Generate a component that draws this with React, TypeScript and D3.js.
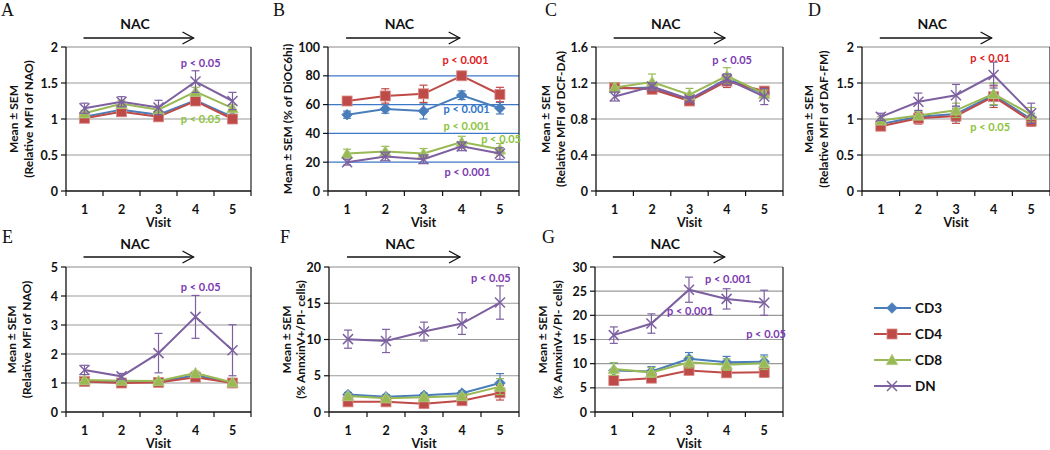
import React from "react";
import * as d3 from "d3";

// ---------- data ----------
const visits = [1, 2, 3, 4, 5];
const seriesNames = ["CD3", "CD4", "CD8", "DN"];

// order of rows: CD3, CD4, CD8, DN
const meansA = [
  [1.03, 1.13, 1.06, 1.26, 1.03],
  [1.01, 1.1, 1.03, 1.25, 1.0],
  [1.08, 1.21, 1.13, 1.38, 1.15],
  [1.15, 1.24, 1.16, 1.52, 1.25],
];
const errA = [
  [0.03, 0.04, 0.03, 0.04, 0.03],
  [0.03, 0.04, 0.03, 0.04, 0.03],
  [0.04, 0.05, 0.05, 0.06, 0.05],
  [0.07, 0.07, 0.1, 0.15, 0.12],
];
const meansB = [
  [53, 57, 55.5, 66.5, 57.5],
  [62.5, 66, 67.5, 80, 67],
  [26, 27.5, 26, 34, 29],
  [20, 24, 22, 31, 26],
];
const errB = [
  [2.5, 3, 5.5, 3, 4],
  [2, 5, 6, 2, 5],
  [3, 3.5, 3.5, 4, 4],
  [2, 3, 3, 3, 4],
];
const meansC = [
  [1.14, 1.15, 1.01, 1.25, 1.08],
  [1.15, 1.13, 1.0, 1.22, 1.11],
  [1.15, 1.21, 1.07, 1.28, 1.08],
  [1.05, 1.16, 1.02, 1.24, 1.05],
];
const errC = [
  [0.04, 0.04, 0.03, 0.05, 0.04],
  [0.05, 0.04, 0.03, 0.07, 0.05],
  [0.05, 0.09, 0.07, 0.09, 0.04],
  [0.05, 0.04, 0.03, 0.06, 0.09],
];
const meansD = [
  [0.93, 1.03, 1.07, 1.33, 1.0],
  [0.9, 1.01, 1.04, 1.31, 0.97],
  [0.98, 1.05, 1.12, 1.35, 1.06],
  [1.03, 1.24, 1.33, 1.61, 1.08],
];
const errD = [
  [0.04, 0.08, 0.1, 0.14, 0.08],
  [0.04, 0.08, 0.1, 0.15, 0.07],
  [0.05, 0.06, 0.1, 0.15, 0.1],
  [0.05, 0.12, 0.15, 0.18, 0.14],
];
const meansE = [
  [1.07, 1.03, 1.04, 1.27, 1.01],
  [1.05, 1.0, 1.02, 1.2, 1.0],
  [1.1, 1.08, 1.07, 1.34, 1.02],
  [1.45, 1.23, 2.03, 3.28, 2.13],
];
const errE = [
  [0.05, 0.04, 0.04, 0.06, 0.04],
  [0.05, 0.04, 0.04, 0.06, 0.04],
  [0.05, 0.04, 0.04, 0.07, 0.04],
  [0.16, 0.1, 0.68, 0.74, 0.88],
];
const meansF = [
  [2.4, 2.1, 2.3, 2.6, 4.0],
  [1.4, 1.4, 1.15, 1.55, 2.65],
  [2.2, 1.9, 2.05, 2.2, 3.5],
  [10.05, 9.8, 11.1, 12.2, 15.1],
];
const errF = [
  [0.3, 0.3, 0.3, 0.3, 1.3],
  [0.3, 0.3, 0.3, 0.3, 1.0],
  [0.3, 0.3, 0.3, 0.3, 1.1],
  [1.25, 1.6, 1.3, 1.5, 2.3],
];
const meansG = [
  [8.6, 8.4, 11.0, 10.3, 10.4],
  [6.5, 7.0, 8.6, 8.1, 8.2],
  [8.9, 8.2, 10.3, 9.8, 10.1],
  [15.9, 18.3, 25.3, 23.4, 22.6],
];
const errG = [
  [1.5, 1.0, 1.3, 1.2, 1.4],
  [0.9, 0.7, 0.8, 0.8, 1.0],
  [1.3, 1.0, 1.2, 1.2, 1.3],
  [1.7, 2.0, 2.6, 2.1, 2.6],
];

// y-axis tick values
const ticksA = [0, 0.5, 1, 1.5, 2];
const ticksB = [0, 20, 40, 60, 80, 100];
const ticksC = [0, 0.4, 0.8, 1.2, 1.6];
const ticksD = [0, 0.5, 1, 1.5, 2];
const ticksE = [0, 1, 2, 3, 4, 5];
const ticksF = [0, 5, 10, 15, 20];
const ticksG = [0, 5, 10, 15, 20, 25, 30];

// significance annotations: [text, seriesKey, visit, value]
const notesA: [string, string, number, number][] = [
  ["p < 0.05", "DN", 4.14, 1.79],
  ["p < 0.05", "CD8", 4.14, 1.01],
];
const notesB: [string, string, number, number][] = [
  ["p < 0.001", "CD4", 4.1, 91],
  ["p < 0.001", "CD3", 4.13, 57.2],
  ["p < 0.001", "CD8", 4.13, 45.5],
  ["p < 0.05", "CD8", 5.03, 36.5],
  ["p < 0.001", "DN", 4.15, 13.8],
];
const notesC: [string, string, number, number][] = [["p < 0.05", "DN", 4.14, 1.465]];
const notesD: [string, string, number, number][] = [
  ["p < 0.01", "CD4", 3.91, 1.85],
  ["p < 0.05", "CD8", 3.91, 0.89],
];
const notesE: [string, string, number, number][] = [["p < 0.05", "DN", 4.14, 4.34]];
const notesF: [string, string, number, number][] = [["p < 0.05", "DN", 4.76, 18.6]];
const notesG: [string, string, number, number][] = [
  ["p < 0.001", "DN", 4.04, 27.7],
  ["p < 0.001", "DN", 3.03, 20.9],
  ["p < 0.05", "DN", 5.05, 16.2],
];

// ---------- styles / layout ----------
const FONT = "Lato, 'Open Sans', 'Liberation Sans', sans-serif";
const lineColors: Record<string, string> = {
  CD3: "#4A7EBB",
  CD4: "#BE4B48",
  CD8: "#98B954",
  DN: "#7D60A0",
};
const noteColors: Record<string, string> = {
  CD3: "#2E75C6",
  CD4: "#E0201E",
  CD8: "#8CC43C",
  DN: "#7B3BB0",
};

type Panel = {
  letter: string;
  lx: number;
  ly: number;
  left: number;
  right: number;
  top: number;
  bottom: number;
  ticks: number[];
  means: number[][];
  errs: number[][];
  notes: [string, string, number, number][];
  ylabel: string[];
  ylabelX: number[];
  gridColor: string;
  row: number;
};

const panels: Panel[] = [
  { letter: "A", lx: 1, ly: 16, left: 66, right: 251, top: 47, bottom: 191, ticks: ticksA, means: meansA, errs: errA, notes: notesA, ylabel: ["Mean ± SEM", "(Relative MFI of NAO)"], ylabelX: [13, 28], gridColor: "#9a9a9a", row: 0 },
  { letter: "B", lx: 273, ly: 16, left: 328, right: 519, top: 47, bottom: 191, ticks: ticksB, means: meansB, errs: errB, notes: notesB, ylabel: ["Mean ± SEM (% of DiOC6hi)"], ylabelX: [287], gridColor: "#3C78C8", row: 0 },
  { letter: "C", lx: 545, ly: 16, left: 596, right: 783, top: 47, bottom: 191, ticks: ticksC, means: meansC, errs: errC, notes: notesC, ylabel: ["Mean ± SEM", "(Relative MFI of DCF-DA)"], ylabelX: [545, 560], gridColor: "#9a9a9a", row: 0 },
  { letter: "D", lx: 808, ly: 16, left: 862, right: 1050, top: 47, bottom: 191, ticks: ticksD, means: meansD, errs: errD, notes: notesD, ylabel: ["Mean ± SEM", "(Relative MFI of DAF-FM)"], ylabelX: [808, 823], gridColor: "#9a9a9a", row: 0 },
  { letter: "E", lx: 2, ly: 243, left: 66, right: 251, top: 267, bottom: 412, ticks: ticksE, means: meansE, errs: errE, notes: notesE, ylabel: ["Mean ± SEM", "(Relative MFI of NAO)"], ylabelX: [11, 26], gridColor: "#9a9a9a", row: 1 },
  { letter: "F", lx: 280, ly: 243, left: 329, right: 519, top: 267, bottom: 412, ticks: ticksF, means: meansF, errs: errF, notes: notesF, ylabel: ["Mean ± SEM", "(% AnnxinV+/PI- cells)"], ylabelX: [286, 300], gridColor: "#9a9a9a", row: 1 },
  { letter: "G", lx: 542, ly: 243, left: 595, right: 783, top: 267, bottom: 412, ticks: ticksG, means: meansG, errs: errG, notes: notesG, ylabel: ["Mean ± SEM", "(% AnnxinV+/PI- cells)"], ylabelX: [542, 557], gridColor: "#9a9a9a", row: 1 },
];

const rowNacY = [23, 243];
const rowArrowY = [38, 257];

function Marker({ name, x, y }: { name: string; x: number; y: number }) {
  const c = lineColors[name];
  if (name === "CD3") {
    const s = 5.3;
    return <path d={`M${x},${y - s}L${x + s},${y}L${x},${y + s}L${x - s},${y}Z`} fill={c} stroke={c} strokeWidth={0.8} />;
  }
  if (name === "CD4") {
    const s = 5;
    return <rect x={x - s} y={y - s} width={2 * s} height={2 * s} fill={c} stroke="#d98a88" strokeWidth={0.8} />;
  }
  if (name === "CD8") {
    const s = 5.8;
    return <path d={`M${x},${y - s}L${x + s},${y + s * 0.8}L${x - s},${y + s * 0.8}Z`} fill={c} stroke="#b5d08a" strokeWidth={0.8} />;
  }
  const s = 5;
  return (
    <g stroke={c} strokeWidth={1.5}>
      <line x1={x - s} y1={y - s} x2={x + s} y2={y + s} />
      <line x1={x - s} y1={y + s} x2={x + s} y2={y - s} />
    </g>
  );
}

function PanelView({ p }: { p: Panel }) {
  const x = d3.scaleLinear().domain([0.5, 5.5]).range([p.left, p.right]);
  const yMax = p.ticks[p.ticks.length - 1];
  const y = d3.scaleLinear().domain([0, yMax]).range([p.bottom, p.top]);
  const line = d3
    .line<number>()
    .x((_, i) => x(visits[i]))
    .y((v) => y(v));
  const cy = (p.top + p.bottom) / 2;
  const nacMid = (x(1) + x(4)) / 2 - 5;
  const ay = rowArrowY[p.row];
  const ax1 = x(1) - 1;
  const ax2 = x(4) - 2;
  const bounds = d3.range(0.5, 5.6, 1);
  return (
    <g>
      <text x={p.lx} y={p.ly} fontFamily="'Liberation Serif', 'DejaVu Serif', serif" fontSize={18} fill="#111">
        {p.letter}
      </text>
      {/* NAC arrow */}
      <text x={nacMid} y={rowNacY[p.row]} textAnchor="middle" dominantBaseline="central" fontFamily={FONT} fontWeight={700} fontSize={14} fill="#111">
        NAC
      </text>
      <line x1={ax1} x2={ax2} y1={ay} y2={ay} stroke="#111" strokeWidth={1.3} />
      <polyline points={`${ax2 - 11},${ay - 6} ${ax2},${ay} ${ax2 - 11},${ay + 6}`} fill="none" stroke="#111" strokeWidth={1.3} />
      {/* gridlines */}
      {p.ticks
        .filter((t) => t > 0)
        .map((t) => (
          <line key={t} x1={p.left} x2={p.right} y1={y(t)} y2={y(t)} stroke={t === yMax ? "#8a8a8a" : p.gridColor} strokeWidth={1.2} />
        ))}
      <line x1={p.right} x2={p.right} y1={p.top} y2={p.bottom} stroke="#222" strokeWidth={1.2} />
      {/* y axis */}
      <line x1={p.left} x2={p.left} y1={p.top} y2={p.bottom} stroke="#111" strokeWidth={1.3} />
      {p.ticks.map((t) => (
        <g key={t}>
          <line x1={p.left - 5} x2={p.left} y1={y(t)} y2={y(t)} stroke="#111" strokeWidth={1.2} />
          <text x={p.left - 8} y={y(t)} textAnchor="end" dominantBaseline="central" fontFamily={FONT} fontWeight={700} fontSize={12.5} fill="#111">
            {t}
          </text>
        </g>
      ))}
      {/* x axis */}
      <line x1={p.left} x2={p.right} y1={p.bottom} y2={p.bottom} stroke="#111" strokeWidth={1.3} />
      {bounds.map((b) => (
        <line key={b} x1={x(b)} x2={x(b)} y1={p.bottom} y2={p.bottom + 5} stroke="#111" strokeWidth={1.2} />
      ))}
      {visits.map((v) => (
        <text key={v} x={x(v)} y={p.bottom + 18} textAnchor="middle" dominantBaseline="central" fontFamily={FONT} fontWeight={700} fontSize={12.5} fill="#111">
          {v}
        </text>
      ))}
      <text x={(p.left + p.right) / 2} y={p.bottom + 31} textAnchor="middle" dominantBaseline="central" fontFamily={FONT} fontWeight={700} fontSize={12.5} fill="#111">
        Visit
      </text>
      {/* y label */}
      {p.ylabel.map((lab, i) => (
        <text
          key={i}
          transform={`translate(${p.ylabelX[i]},${cy}) rotate(-90)`}
          textAnchor="middle"
          dominantBaseline="central"
          fontFamily={FONT}
          fontWeight={700}
          fontSize={12}
          fill="#111"
        >
          {lab}
        </text>
      ))}
      {/* series */}
      {seriesNames.map((name, si) => (
        <g key={name}>
          <path d={line(p.means[si]) || ""} fill="none" stroke={lineColors[name]} strokeWidth={2} />
          {p.means[si].map((m, i) => {
            const e = p.errs[si][i];
            const xx = x(visits[i]);
            return (
              <g key={i} stroke={lineColors[name]} strokeWidth={1.2}>
                <line x1={xx} x2={xx} y1={y(m - e)} y2={y(m + e)} />
                <line x1={xx - 4} x2={xx + 4} y1={y(m - e)} y2={y(m - e)} />
                <line x1={xx - 4} x2={xx + 4} y1={y(m + e)} y2={y(m + e)} />
              </g>
            );
          })}
          {p.means[si].map((m, i) => (
            <Marker key={"m" + i} name={name} x={x(visits[i])} y={y(m)} />
          ))}
        </g>
      ))}
      {/* annotations */}
      {p.notes.map(([t, key, vx, vy], i) => (
        <text key={i} x={x(vx)} y={y(vy)} textAnchor="middle" dominantBaseline="central" fontFamily={FONT} fontWeight={700} fontSize={11} fill={noteColors[key]}>
          {t}
        </text>
      ))}
    </g>
  );
}

const legendY = [308, 334, 360, 386];

export default function App() {
  return (
    <svg width={1050} height={450} style={{ position: "absolute", left: 0, top: 0, background: "#fff" }}>
      <rect x={0} y={0} width={1050} height={450} fill="#fff" />
      {panels.map((p) => (
        <PanelView key={p.letter} p={p} />
      ))}
      {seriesNames.map((name, i) => (
        <g key={name}>
          <line x1={874} x2={911} y1={legendY[i]} y2={legendY[i]} stroke={lineColors[name]} strokeWidth={2} />
          <Marker name={name} x={892} y={legendY[i]} />
          <text x={915} y={legendY[i]} dominantBaseline="central" fontFamily={FONT} fontWeight={700} fontSize={13.5} fill="#111">
            {name}
          </text>
        </g>
      ))}
    </svg>
  );
}
